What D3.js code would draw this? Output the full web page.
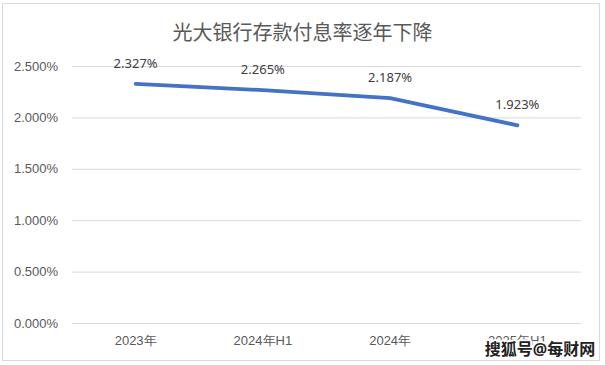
<!DOCTYPE html>
<html lang="zh">
<head>
  <meta charset="UTF-8">
  <title>光大银行存款付息率逐年下降</title>
  <style>
    body { margin: 0; background: #fff; }
    svg { display: block; font-family: "Noto Sans", "Noto Sans CJK SC", sans-serif; }
  </style>
</head>
<body>
  <svg class="chart"></svg>
  <script src="https://cdn.jsdelivr.net/npm/d3@7"></script>
  <script>
    var w = 605;
    var h = 365;
    var categories = ["2023年", "2024年H1", "2024年", "2025年H1"];
    var rates = [2.327, 2.265, 2.187, 1.923];
    var yTicks = [0, 0.5, 1.0, 1.5, 2.0, 2.5];

    var data = categories.map((c, i) => ({cat: c, val: rates[i]}));
    var margin = {top: 66, right: 24, bottom: 42, left: 72};

    var svg = d3.select(".chart").attr("width", w).attr("height", h);

    // chart border
    svg.append("rect")
      .attr("x", 2.5).attr("y", 3.5)
      .attr("width", 597).attr("height", 357)
      .attr("fill", "#fff").attr("stroke", "#d9d9d9");

    var x = d3.scaleBand()
      .domain(categories)
      .range([margin.left, w - margin.right]);

    var y = d3.scaleLinear()
      .domain([0, 2.5])
      .range([h - margin.bottom, margin.top]);

    // grid + y labels
    var yAxis = svg.append("g")
      .attr("transform", "translate(" + margin.left + ",0)")
      .call(d3.axisLeft(y).tickValues(yTicks)
        .tickSize(-(w - margin.left - margin.right))
        .tickPadding(14)
        .tickFormat(d => d3.format(".3f")(d) + "%"));
    yAxis.select(".domain").remove();
    yAxis.selectAll("line").attr("stroke", "#d9d9d9");
    yAxis.selectAll("text").attr("fill", "#595959").attr("font-size", "13px");

    // x labels
    var xAxis = svg.append("g")
      .attr("transform", "translate(0," + (h - margin.bottom) + ")")
      .call(d3.axisBottom(x).tickSize(0).tickPadding(13));
    xAxis.select(".domain").remove();
    xAxis.selectAll("text").attr("fill", "#595959").attr("font-size", "13px");

    var lineFun = d3.line()
      .x(d => x(d.cat) + x.bandwidth() / 2)
      .y(d => y(d.val));

    svg.append("path")
      .attr("d", lineFun(data))
      .attr("fill", "none")
      .attr("stroke", "#4472c4")
      .attr("stroke-width", 3.8)
      .attr("stroke-linecap", "round")
      .attr("stroke-linejoin", "round");

    svg.selectAll(".lbl")
      .data(data)
      .enter()
      .append("text")
      .attr("class", "lbl")
      .attr("x", d => x(d.cat) + x.bandwidth() / 2)
      .attr("y", d => y(d.val) - 16)
      .attr("text-anchor", "middle")
      .attr("font-size", "13px")
      .attr("fill", "#404040")
      .text(d => d3.format(".3f")(d.val) + "%");

    // title
    svg.append("text")
      .attr("x", w / 2).attr("y", 40)
      .attr("text-anchor", "middle")
      .attr("font-size", "20px")
      .attr("fill", "#595959")
      .text("光大银行存款付息率逐年下降");

    // watermark (sits over the last category label, as in the source)
    svg.append("text")
      .attr("x", 540).attr("y", 355)
      .attr("text-anchor", "middle")
      .attr("font-size", "16px")
      .attr("font-weight", "bold")
      .attr("fill", "#222")
      .attr("stroke", "#fff")
      .attr("stroke-width", 4)
      .attr("stroke-linejoin", "round")
      .attr("paint-order", "stroke")
      .text("搜狐号@每财网");
  </script>
</body>
</html>
